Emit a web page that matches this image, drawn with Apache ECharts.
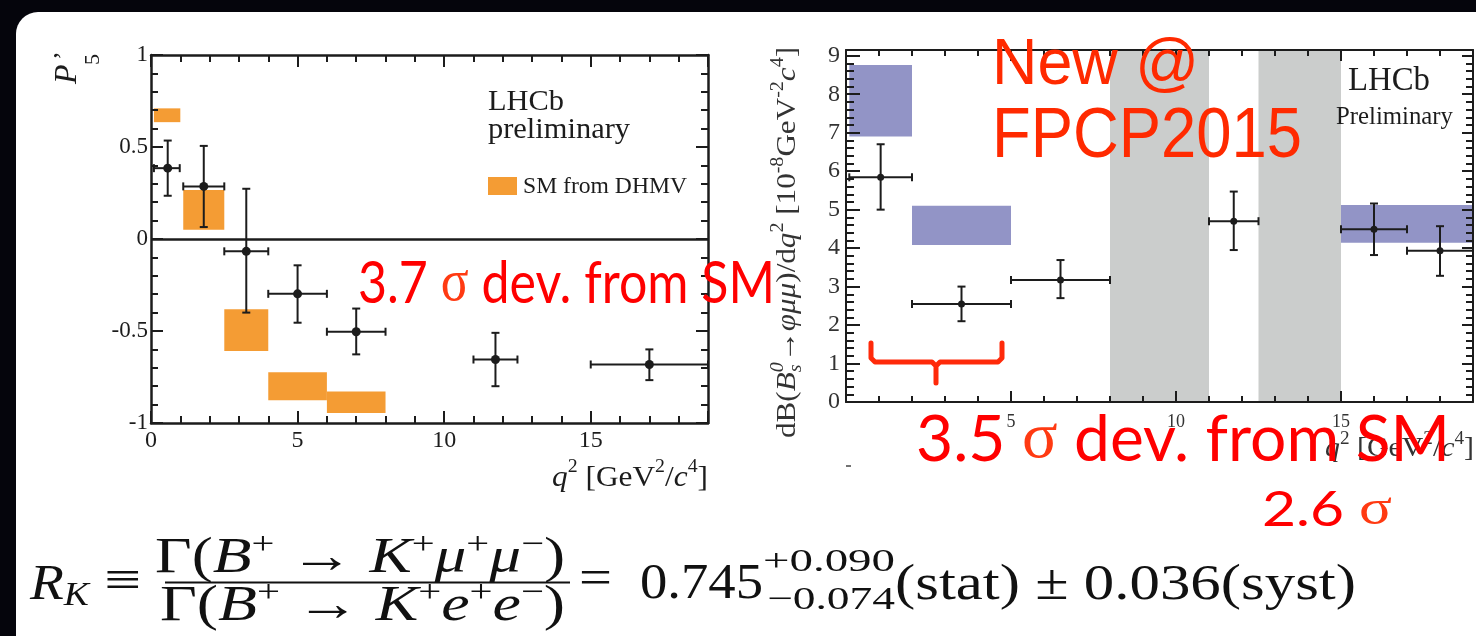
<!DOCTYPE html>
<html>
<head>
<meta charset="utf-8">
<script src="https://cdn.jsdelivr.net/npm/echarts/dist/echarts.min.js"></script>
<style>
html,body{margin:0;padding:0;background:#05050c;}
#main{width:1476px;height:636px;}
</style>
</head>
<body>
<div id="main"></div>
<script>
// left panel: P'5 vs q2
const p5Q2 = [0.57, 1.8, 3.25, 5.0, 7.0, 11.75, 17.0];
const p5Q2Lo = [0.1, 1.1, 2.5, 4.0, 6.0, 11.0, 15.0];
const p5Q2Hi = [0.98, 2.5, 4.0, 6.0, 8.0, 12.5, 19.0];
const p5Val = [0.385, 0.286, -0.067, -0.298, -0.504, -0.655, -0.682];
const p5Up = [0.535, 0.506, 0.273, -0.143, -0.378, -0.51, -0.60];
const p5Down = [0.235, 0.065, -0.40, -0.455, -0.627, -0.80, -0.767];

// SM from DHMV boxes
const smLo = [0.1, 1.1, 2.5, 4.0, 6.0];
const smHi = [1.0, 2.5, 4.0, 6.0, 8.0];
const smBottom = [0.635, 0.05, -0.609, -0.876, -0.945];
const smTop = [0.71, 0.266, -0.382, -0.724, -0.829];

// right panel: dB(Bs->phi mu mu)/dq2
const phiQ2 = [1.05, 3.5, 6.5, 11.75, 16.0, 18.0];
const phiQ2Lo = [0.1, 2.0, 5.0, 11.0, 15.0, 17.0];
const phiQ2Hi = [2.0, 5.0, 8.0, 12.5, 17.0, 19.0];
const phiVal = [5.84, 2.55, 3.17, 4.70, 4.49, 3.93];
const phiUp = [6.70, 3.00, 3.69, 5.47, 5.16, 4.57];
const phiDown = [5.00, 2.10, 2.70, 3.95, 3.82, 3.28];

const phiSmLo = [0.1, 2.0, 15.0];
const phiSmHi = [2.0, 5.0, 19.0];
const phiSmBottom = [6.90, 4.08, 4.14];
const phiSmTop = [8.76, 5.10, 5.12];

// charmonium vetoes
const vetoLo = [8.0, 12.5];
const vetoHi = [11.0, 15.0];

const q2Ticks = [0, 5, 10, 15];

let chart = echarts.init(document.getElementById('main'));

const ink = '#1c1c1c';
const serif = '"Liberation Serif", "Times New Roman", serif';
const sans = 'Lato, "Liberation Sans", sans-serif';
const arial = '"Liberation Sans", Arial, sans-serif';
const red = '#ff0000';
const F = (s, st) => (st ? st + ' ' : '') + s + 'px ' + serif;

let ctx = document.createElement('canvas').getContext('2d');
function textWidth(t, font) { ctx.font = font; return ctx.measureText(t).width; }

// lay out a row of text pieces and squeeze it to the given width
function row(items, x0, y0, width, color, rot) {
    let total = 0, prevStart = 0, prevW = 0, pos = [];
    items.forEach(it => {
        let w = textWidth(it.t, it.f);
        if (it.stack) {
            pos.push(prevStart);
            prevW = Math.max(prevW, w);
            total = prevStart + prevW;
        } else {
            pos.push(total);
            prevStart = total;
            prevW = w;
            total += w;
        }
    });
    let s = width ? width / total : 1;
    return items.map((it, i) => {
        let dx = pos[i] * s, dy = it.dy || 0;
        return {
            type: 'text', silent: true, z: 50,
            x: rot ? x0 + dy : x0 + dx,
            y: rot ? y0 - dx : y0 + dy,
            rotation: rot ? Math.PI / 2 : 0,
            scaleX: s,
            style: {
                text: it.t, font: it.f, fill: it.c || color,
                align: 'left', verticalAlign: 'middle',
                textAlign: 'left', textVerticalAlign: 'middle'
            }
        };
    });
}

function ax(extra) {
    return Object.assign({
        type: 'value', z: 5,
        axisLine: {show: false, onZero: false},
        axisLabel: {show: false},
        splitLine: {show: false}
    }, extra);
}
function tick(len, w) {
    return {show: true, inside: true, length: len, lineStyle: {color: ink, width: w}};
}
const frame = w => ({show: true, onZero: false, lineStyle: {color: ink, width: w}});

let xAxes = [
    // left grid
    ax({gridIndex: 0, position: 'bottom', min: 0, max: 19, interval: 5, axisLine: frame(2.5), axisTick: tick(12, 2),
        axisLabel: {show: true, color: ink, fontFamily: serif, fontSize: 24, margin: 6,
            formatter: v => q2Ticks.indexOf(v) >= 0 ? String(v) : ''}}),
    ax({gridIndex: 0, position: 'bottom', min: 0, max: 19, interval: 1, axisTick: tick(7, 2)}),
    ax({gridIndex: 0, position: 'top', min: 0, max: 19, interval: 5, axisLine: frame(2.5), axisTick: tick(12, 2)}),
    ax({gridIndex: 0, position: 'top', min: 0, max: 19, interval: 1, axisTick: tick(7, 2)}),
    // right grid
    ax({gridIndex: 1, position: 'bottom', min: 0, max: 19, interval: 5, axisLine: frame(2), axisTick: tick(11, 2),
        axisLabel: {show: true, color: '#333', fontFamily: serif, fontSize: 18, margin: 11,
            formatter: v => (v > 0 && q2Ticks.indexOf(v) >= 0) ? String(v) : ''}}),
    ax({gridIndex: 1, position: 'bottom', min: 0, max: 19, interval: 1, axisTick: tick(6, 2)}),
    ax({gridIndex: 1, position: 'top', min: 0, max: 19, interval: 5, axisLine: frame(2), axisTick: tick(11, 2)}),
    ax({gridIndex: 1, position: 'top', min: 0, max: 19, interval: 1, axisTick: tick(6, 2)})
];

let yAxes = [
    ax({gridIndex: 0, position: 'left', min: -1, max: 1, interval: 0.5, axisLine: frame(2.5), axisTick: tick(12, 2),
        axisLabel: {show: true, color: ink, fontFamily: serif, fontSize: 23, margin: 3}}),
    ax({gridIndex: 0, position: 'left', min: -1, max: 1, interval: 0.1, axisTick: tick(7, 2)}),
    ax({gridIndex: 0, position: 'right', min: -1, max: 1, interval: 0.5, axisLine: frame(2.5), axisTick: tick(12, 2)}),
    ax({gridIndex: 0, position: 'right', min: -1, max: 1, interval: 0.1, axisTick: tick(7, 2)}),
    ax({gridIndex: 1, position: 'left', min: 0, max: 9.15, interval: 1, axisLine: frame(2), axisTick: tick(14, 2),
        axisLabel: {show: true, color: '#333', fontFamily: serif, fontSize: 24, margin: 6,
            formatter: v => Number.isInteger(v) ? String(v) : ''}}),
    ax({gridIndex: 1, position: 'left', min: 0, max: 9.15, interval: 0.2, axisTick: tick(8, 2)}),
    ax({gridIndex: 1, position: 'right', min: 0, max: 9.15, interval: 1, axisLine: frame(2), axisTick: tick(11, 2)}),
    ax({gridIndex: 1, position: 'right', min: 0, max: 9.15, interval: 0.2, axisTick: tick(7, 2)})
];

function boxes(lo, hi, bottom, top, color) {
    return function (params, api) {
        let i = params.dataIndex;
        let a = api.coord([lo[i], top[i]]), b = api.coord([hi[i], bottom[i]]);
        return {type: 'rect', shape: {x: a[0], y: a[1], width: b[0] - a[0], height: b[1] - a[1]},
            style: {fill: color}};
    };
}

function errorBars(q, qLo, qHi, v, up, down, r, cap) {
    return function (params, api) {
        let i = params.dataIndex;
        let c = api.coord([q[i], v[i]]);
        let l = api.coord([qLo[i], v[i]]), h = api.coord([qHi[i], v[i]]);
        let t = api.coord([q[i], up[i]]), b = api.coord([q[i], down[i]]);
        let st = {stroke: ink, lineWidth: 2};
        return {type: 'group', children: [
            {type: 'line', shape: {x1: l[0], y1: c[1], x2: h[0], y2: c[1]}, style: st},
            {type: 'line', shape: {x1: c[0], y1: t[1], x2: c[0], y2: b[1]}, style: st},
            {type: 'line', shape: {x1: l[0], y1: c[1] - cap, x2: l[0], y2: c[1] + cap}, style: st},
            {type: 'line', shape: {x1: h[0], y1: c[1] - cap, x2: h[0], y2: c[1] + cap}, style: st},
            {type: 'line', shape: {x1: c[0] - cap, y1: t[1], x2: c[0] + cap, y2: t[1]}, style: st},
            {type: 'line', shape: {x1: c[0] - cap, y1: b[1], x2: c[0] + cap, y2: b[1]}, style: st},
            {type: 'circle', shape: {cx: c[0], cy: c[1], r: r}, style: {fill: ink}}
        ]};
    };
}

let graphics = [
    {type: 'rect', z: -10, silent: true, shape: {x: 16, y: 12, width: 1480, height: 660, r: 22}, style: {fill: '#ffffff'}},
    // legend swatch
    {type: 'rect', z: 50, silent: true, shape: {x: 488, y: 177, width: 29, height: 18}, style: {fill: '#f49c34'}},
    // fraction bar
    {type: 'line', z: 50, silent: true, shape: {x1: 165, y1: 582.5, x2: 570, y2: 582.5}, style: {stroke: '#111', lineWidth: 2}},
    // stray dash under the right panel
    {type: 'line', z: 50, silent: true, shape: {x1: 846, y1: 466, x2: 851, y2: 466}, style: {stroke: '#444', lineWidth: 1.5}},
    // red brace
    {type: 'polyline', z: 60, silent: true,
        shape: {points: [[871, 343], [871, 358], [875, 362], [932, 362], [936, 366], [936, 383], [936, 366], [940, 362], [998, 362], [1002, 358], [1002, 343]]},
        style: {stroke: '#ff2a0a', lineWidth: 5, fill: null, lineJoin: 'round', lineCap: 'round'}}
];

function add(list) { graphics = graphics.concat(list); }

// axis titles
add(row([{t: 'P', f: F(32, 'italic')}], 68, 84, 0, ink, true));
add(row([{t: '’', f: F(26)}], 64, 60, 0, ink, true));
add(row([{t: '5', f: F(22)}], 93, 65, 0, ink, true));
add(row([{t: 'q', f: F(30, 'italic')}, {t: '2', f: F(19), dy: -11}, {t: ' [GeV', f: F(30)}, {t: '2', f: F(19), dy: -11},
    {t: '/', f: F(30)}, {t: 'c', f: F(30, 'italic')}, {t: '4', f: F(19), dy: -11}, {t: ']', f: F(30)}], 552, 478, 156, ink));
add(row([{t: 'q', f: F(28, 'italic')}, {t: '2', f: F(18), dy: -10}, {t: ' [GeV', f: F(28)}, {t: '2', f: F(18), dy: -10},
    {t: '/', f: F(28)}, {t: 'c', f: F(28, 'italic')}, {t: '4', f: F(18), dy: -10}, {t: ']', f: F(28)}], 1325, 449, 149, '#333'));
add(row([{t: 'dB(', f: F(28)}, {t: 'B', f: F(28, 'italic')}, {t: 's', f: F(18, 'italic'), dy: 8}, {t: '0', f: F(18, 'italic'), dy: -10, stack: true},
    {t: '→', f: F(28)}, {t: 'φμμ', f: F(28, 'italic')}, {t: ')/d', f: F(28)}, {t: 'q', f: F(28, 'italic')}, {t: '2', f: F(18), dy: -10},
    {t: ' [10', f: F(28)}, {t: '-8', f: F(18), dy: -10}, {t: 'GeV', f: F(28)}, {t: '-2', f: F(18), dy: -10},
    {t: 'c', f: F(28, 'italic')}, {t: '4', f: F(18), dy: -10}, {t: ']', f: F(28)}], 788, 438, 391, '#333', true));

// panel labels
add(row([{t: 'LHCb', f: F(30)}], 488, 102, 76, ink));
add(row([{t: 'preliminary', f: F(30)}], 488, 130, 142, ink));
add(row([{t: 'SM from DHMV', f: F(24)}], 523, 187, 164, ink));
add(row([{t: 'LHCb', f: F(33)}], 1348, 81, 82, ink));
add(row([{t: 'Preliminary', f: F(25)}], 1336, 117, 117, ink));

// formula
add(row([{t: 'R', f: F(50, 'italic')}, {t: 'K', f: F(34, 'italic'), dy: 10}], 30, 586, 59, '#111'));
add(row([{t: '≡', f: F(50)}], 104, 583, 37, '#111'));
const sup = F(32);
add(row([{t: 'Γ(', f: F(50)}, {t: 'B', f: F(50, 'italic')}, {t: '+', f: sup, dy: -13}, {t: ' → ', f: F(50)},
    {t: 'K', f: F(50, 'italic')}, {t: '+', f: sup, dy: -13}, {t: 'μ', f: F(50, 'italic')}, {t: '+', f: sup, dy: -13},
    {t: 'μ', f: F(50, 'italic')}, {t: '−', f: sup, dy: -13}, {t: ')', f: F(50)}], 155, 559, 410, '#111'));
add(row([{t: 'Γ(', f: F(50)}, {t: 'B', f: F(50, 'italic')}, {t: '+', f: sup, dy: -13}, {t: ' → ', f: F(50)},
    {t: 'K', f: F(50, 'italic')}, {t: '+', f: sup, dy: -13}, {t: 'e', f: F(50, 'italic')}, {t: '+', f: sup, dy: -13},
    {t: 'e', f: F(50, 'italic')}, {t: '−', f: sup, dy: -13}, {t: ')', f: F(50)}], 160, 607, 405, '#111'));
add(row([{t: '=', f: F(50)}], 579, 581, 33, '#111'));
add(row([{t: '0.745', f: F(50)}], 640, 585, 123, '#111'));
add(row([{t: '+0.090', f: F(32)}], 763, 563, 132, '#111'));
add(row([{t: '−0.074', f: F(32)}], 767, 601, 128, '#111'));
add(row([{t: '(stat) ± 0.036(syst)', f: F(50)}], 895, 586, 461, '#111'));

// red annotations
add(row([{t: '3.7 ', f: '58px ' + sans}, {t: 'σ', f: F(60), c: '#ff3a12'}, {t: ' dev. from SM', f: '58px ' + sans}], 358, 284, 417, red));
add(row([{t: '3.5 ', f: '64px ' + sans}, {t: 'σ', f: F(66), c: '#ff3a12'}, {t: ' dev. from SM', f: '64px ' + sans}], 916, 440, 534, red));
add(row([{t: '2.6 ', f: '48px ' + sans}, {t: 'σ', f: F(50), c: '#ff3a12'}], 1262, 511, 130, red));
add(row([{t: 'New @', f: '64px ' + arial}], 992, 66, 207, '#ff2a00'));
add(row([{t: 'FPCP2015', f: '70px ' + arial}], 992, 138, 310, '#ff2a00'));

let option = {
    animation: false,
    backgroundColor: '#05050c',
    grid: [
        {left: 151, top: 55, width: 557, height: 368},
        {left: 846, top: 50, width: 629, height: 352}
    ],
    xAxis: xAxes,
    yAxis: yAxes,
    series: [
        {
            type: 'custom', xAxisIndex: 0, yAxisIndex: 0,
            renderItem: boxes(smLo, smHi, smBottom, smTop, '#f49c34'),
            data: smLo.map((lo, i) => [lo, smBottom[i]]),
            markLine: {silent: true, symbol: 'none', label: {show: false},
                lineStyle: {color: ink, width: 2.5, type: 'solid'}, data: [{yAxis: 0}]}
        },
        {
            type: 'custom', xAxisIndex: 0, yAxisIndex: 0,
            renderItem: errorBars(p5Q2, p5Q2Lo, p5Q2Hi, p5Val, p5Up, p5Down, 4.5, 4),
            data: p5Q2.map((q, i) => [q, p5Val[i]])
        },
        {
            type: 'custom', xAxisIndex: 4, yAxisIndex: 4, z: 1,
            renderItem: function (params, api) {
                let i = params.dataIndex;
                let a = api.coord([vetoLo[i], 0]), b = api.coord([vetoHi[i], 0]);
                return {type: 'rect', shape: {x: a[0], y: params.coordSys.y, width: b[0] - a[0], height: params.coordSys.height},
                    style: {fill: '#cbcdcc'}};
            },
            data: vetoLo.map((lo, i) => [lo, 0])
        },
        {
            type: 'custom', xAxisIndex: 4, yAxisIndex: 4,
            renderItem: boxes(phiSmLo, phiSmHi, phiSmBottom, phiSmTop, '#9294c6'),
            data: phiSmLo.map((lo, i) => [lo, phiSmBottom[i]])
        },
        {
            type: 'custom', xAxisIndex: 4, yAxisIndex: 4,
            renderItem: errorBars(phiQ2, phiQ2Lo, phiQ2Hi, phiVal, phiUp, phiDown, 3.5, 4),
            data: phiQ2.map((q, i) => [q, phiVal[i]])
        }
    ],
    graphic: {elements: graphics}
};
chart.setOption(option);
window.addEventListener('resize', function () { chart.resize(); });
</script>
</body>
</html>
